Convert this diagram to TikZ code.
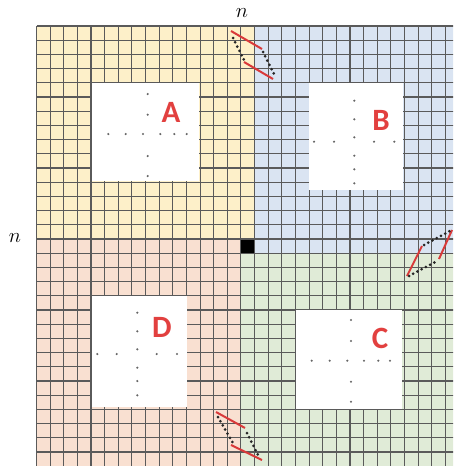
\documentclass[tikz,border=0pt]{standalone}
\usepackage{fontspec}
\newfontfamily\calib{Carlito}
\definecolor{qyellow}{HTML}{FDF0C9}
\definecolor{qblue}{HTML}{DAE4F2}
\definecolor{qpink}{HTML}{F9E0D1}
\definecolor{qgreen}{HTML}{E0EBD7}
\definecolor{gline}{HTML}{5A5A5A}
\definecolor{lred}{HTML}{E2403F}
\definecolor{zred}{HTML}{D93A3A}
\newcommand{\gX}[1]{36.5+(#1)*13.63}
\newcommand{\gY}[1]{26+(#1)*14.2}
\begin{document}
\begin{tikzpicture}[x=1pt,y=-1pt,
  gridline/.style={draw=gline, line width=1.05pt},
  whitebox/.style={fill=white, draw=none},
  lab/.style={text=lred, font=\calib\bfseries\fontsize{31}{31}\selectfont, inner sep=0pt},
  dimlab/.style={font=\fontsize{21}{24}\selectfont, inner sep=0pt},
  dot/.style={fill=black!60},
  redline/.style={draw=zred, line width=2pt},
  dotline/.style={draw=black!85, line width=3pt, line cap=round, dash pattern=on 0pt off 4.8pt}
]
\useasboundingbox (0,0) rectangle (453,466);
\begin{scope}
\clip (0,0) rectangle (453,466);
\fill[qyellow] ({\gX{0}},{\gY{0}}) rectangle ({\gX{16}},{\gY{15}});
\fill[qblue] ({\gX{16}},{\gY{0}}) rectangle ({\gX{31}},{\gY{16}});
\fill[qgreen] ({\gX{15}},{\gY{16}}) rectangle ({\gX{31}},{\gY{31}});
\fill[qpink] ({\gX{0}},{\gY{15}}) rectangle ({\gX{15}},{\gY{31}});
\fill[black] ({\gX{15}},{\gY{15}}) rectangle ({\gX{16}},{\gY{16}});
\foreach \k in {0,...,31} {
  \draw[gridline] ({\gX{\k}},{\gY{0}}) -- ({\gX{\k}},{\gY{31}});
  \draw[gridline] ({\gX{0}},{\gY{\k}}) -- ({\gX{31}},{\gY{\k}});
}
\end{scope}
% white boxes
\fill[whitebox] (92,83) rectangle (199,181);
\fill[whitebox] (309,83) rectangle (403,190);
\fill[whitebox] (296,310) rectangle (402,409);
\fill[whitebox] (92,296) rectangle (187,407);
% dots A
\foreach \y in {94,114.7,156,176} \fill[dot] (147.7,\y) circle (1.2);
\foreach \x in {108.3,125.7,143,160.3,174.3,186.7} \fill[dot] (\x,134) circle (1.2);
% dots B
\foreach \y in {100.7,119.3,137.3,155.7,169.3,183.3} \fill[dot] (354.3,\y) circle (1.2);
\foreach \x in {314,334,374,394.3} \fill[dot] (\x,141.7) circle (1.2);
% dots C
\foreach \y in {320,341,381.7,401.7} \fill[dot] (351,\y) circle (1.2);
\foreach \x in {311.7,329.7,347.3,364,378.3,390} \fill[dot] (\x,360.7) circle (1.2);
% dots D
\foreach \y in {312.7,331.3,349.3,367.7,381,395.3} \fill[dot] (137.3,\y) circle (1.2);
\foreach \x in {97.3,116.7,156.7,177} \fill[dot] (\x,354) circle (1.2);
% labels
\node[lab] (A) at (171,112) {A};
\node[lab] (B) at (381,120) {B};
\node[lab] (C) at (380,338.5) {C};
\node[lab] (D) at (162,327.5) {D};
\node[dimlab] (ntop) at (242,13) {$n$};
\node[dimlab] (nleft) at (15,238) {$n$};
% top zigzag
\coordinate (t1) at (231,31); \coordinate (t2) at (262,49);
\coordinate (t3) at (244,62); \coordinate (t4) at (273,79);
\coordinate (t5) at (233,38); \coordinate (t6) at (244,60);
\coordinate (t7) at (263,52); \coordinate (t8) at (275,76);
\draw[redline] (t1) -- (t2);
\draw[redline] (t3) -- (t4);
\draw[dotline] (t5) -- (t6);
\draw[dotline] (t7) -- (t8);
% right zigzag
\coordinate (r1) at (407,276); \coordinate (r2) at (422,246);
\coordinate (r3) at (439,259); \coordinate (r4) at (452,230);
\coordinate (r5) at (424,245); \coordinate (r6) at (450,231);
\coordinate (r7) at (409,276); \coordinate (r8) at (438,260.5);
\draw[redline] (r1) -- (r2);
\draw[redline] (r3) -- (r4);
\draw[dotline] (r5) -- (r6);
\draw[dotline] (r7) -- (r8);
% bottom zigzag
\coordinate (b1) at (216,412); \coordinate (b2) at (245,428);
\coordinate (b3) at (231,445); \coordinate (b4) at (262,460);
\coordinate (b5) at (218,417); \coordinate (b6) at (233,443);
\coordinate (b7) at (247,433); \coordinate (b8) at (259,457);
\draw[redline] (b1) -- (b2);
\draw[redline] (b3) -- (b4);
\draw[dotline] (b5) -- (b6);
\draw[dotline] (b7) -- (b8);
\end{tikzpicture}
\end{document}
